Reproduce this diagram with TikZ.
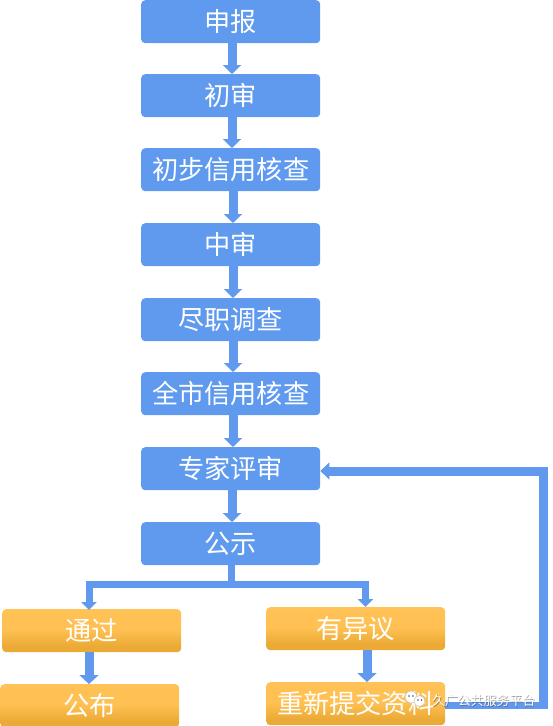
\documentclass[tikz,border=0pt]{standalone}
\usepackage{fontspec}
\setmainfont{Noto Sans CJK SC}
\usetikzlibrary{arrows.meta}
\definecolor{flowblue}{HTML}{6199EE}
\definecolor{bluebox}{HTML}{5F9AEE}
\definecolor{ortop}{HTML}{FFC871}
\definecolor{ormid}{HTML}{FFC153}
\definecolor{orbot}{HTML}{EBAA35}
\pgfdeclareverticalshading{orshade}{100bp}{color(0bp)=(orbot);color(32bp)=(orbot);color(52bp)=(ormid);color(68bp)=(ormid);color(100bp)=(ortop)}
\tikzset{
  x=1pt,y=-1pt,
  boxbase/.style={rounded corners=4pt,minimum width=179pt,inner sep=0pt,text=white,font=\fontsize{26.2}{28}\selectfont,anchor=north west},
  bluenode/.style={boxbase,fill=bluebox,minimum height=43pt},
  orangenode/.style={boxbase,shading=orshade,minimum height=43pt},
  flow/.style={draw=flowblue,line width=9pt,-{Triangle[length=9pt,width=18pt]}},
  thinflow/.style={draw=flowblue,line width=7pt,-{Triangle[length=8pt,width=15pt]}},
  flowplain/.style={draw=flowblue,line width=7pt},
  mark text/.style={text=white,font=\fontsize{12.9}{15}\selectfont,inner sep=0pt},
  blob/.style={fill=white,draw=gray!55,line width=.4pt},
  eye/.style={fill=black!65}
}
\begin{document}
\begin{tikzpicture}
\useasboundingbox (0,0) rectangle (553,726);
\node[bluenode] (a) at (141,0) {申报};
\node[bluenode] (b) at (141,74) {初审};
\node[bluenode] (c) at (141,148) {初步信用核查};
\node[bluenode] (d) at (141,223) {中审};
\node[bluenode] (e) at (141,298) {尽职调查};
\node[bluenode] (f) at (141,372) {全市信用核查};
\node[bluenode] (g) at (141,447) {专家评审};
\node[bluenode] (h) at (141,522) {公示};
\node[orangenode] (i) at (2,609) {通过};
\node[orangenode] (j) at (0,684) {公布};
\node[orangenode] (k) at (266,607) {有异议};
\node[orangenode] (l) at (266,682) {重新提交资料};
\coordinate (split) at (231.5,584.5);
\coordinate (bend) at (543.5,705.5);
\coordinate (bendb) at (543.5,471);
\coordinate (itop) at (89,610);
\coordinate (ktop) at (365.5,607);
\draw[flow] (a.south -| 232,0) -- (b.north -| 232,0);
\draw[flow] (b.south -| 232,0) -- (c.north -| 232,0);
\draw[flow] (c.south -| 233,0) -- (d.north -| 233,0);
\draw[flow] (d.south -| 233,0) -- (e.north -| 233,0);
\draw[flow] (e.south -| 233,0) -- (f.north -| 233,0);
\draw[flow] (f.south -| 233,0) -- (g.north -| 233,0);
\draw[flow] (g.south -| 232,0) -- (h.north -| 232,0);
\draw[flowplain] (h.south -| split) -- (split);
\draw[thinflow] (split) -| (itop);
\draw[thinflow] (split) -| (ktop);
\draw[flow,-{Triangle[length=9pt,width=19pt]}] (i.south -| 89,0) -- (j.north -| 89,0);
\draw[flow,-{Triangle[length=9pt,width=19pt]}] (k.south -| 367,0) -- (l.north -| 367,0);
\draw[flowplain,line width=7pt] (l.east |- bend) -- (bend);
\draw[flowplain,line width=9pt] (bend |- 0,709) -- (bendb);
\draw[flow,-{Triangle[length=9pt,width=17pt]}] (bendb) ++(4.5,0) -- (g.east |- bendb);
\path[blob] (411,697) circle (6pt);
\path[blob] (419.5,701) circle (5.5pt);
\path[eye] (409,696) circle (.8pt) (413,696) circle (.8pt) (418,700) circle (.8pt) (421.5,700) circle (.8pt);
\node[mark text,anchor=west,text=black!70,opacity=.55] (ws) at (432.7,701.7) {久广公共服务平台};
\node[mark text,anchor=west] (w) at (432,701) {久广公共服务平台};
\end{tikzpicture}
\end{document}
